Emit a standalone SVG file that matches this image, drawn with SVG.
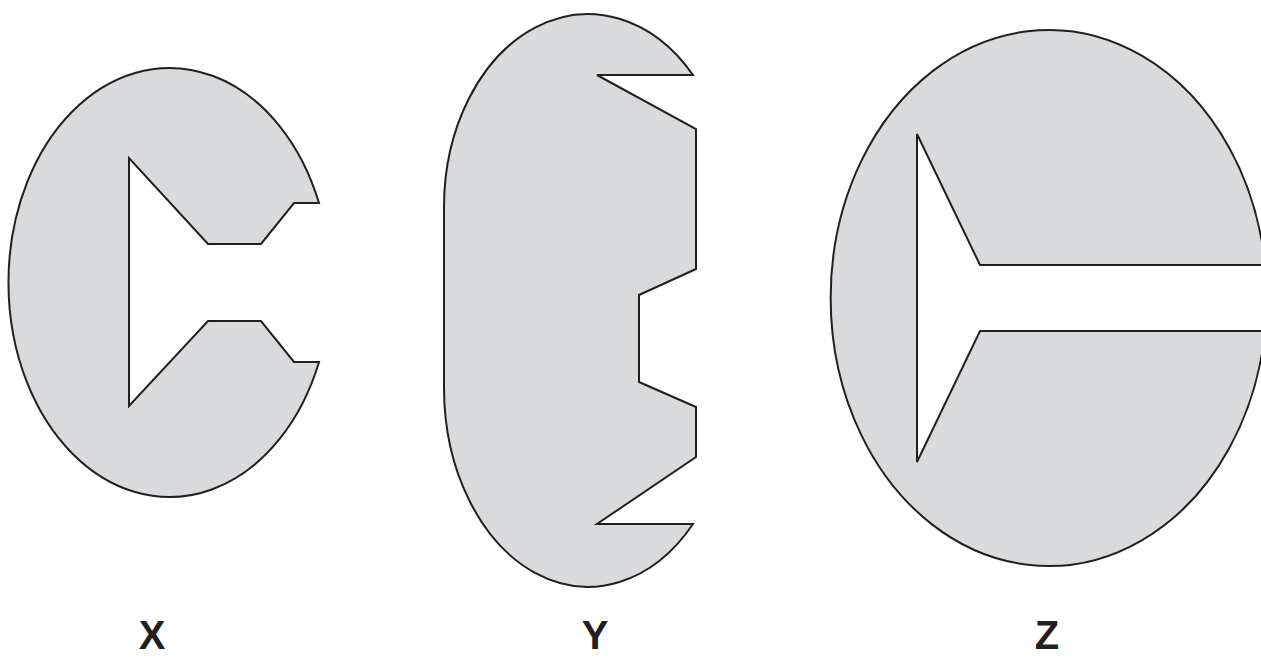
<svg xmlns="http://www.w3.org/2000/svg" width="1261" height="659" viewBox="0 0 1261 659">
<style>
.shape{fill:#d9dadc;stroke:#231f20;stroke-width:2;stroke-linejoin:miter}
.lbl{font-family:"Liberation Sans",Arial,sans-serif;font-weight:bold;font-size:40px;fill:#231f20;text-anchor:middle}
</style>
<rect width="1261" height="659" fill="#ffffff"/>
<g id="X">
<path class="shape" d="M319,203 A161,214.5 0 1 0 319,362 L294,362 L261,321 L208,321 L129,406 L129,158 L208,244 L261,244 L294,203 Z"/>
<text class="lbl" x="152" y="649">X</text>
</g>
<g id="Y">
<path class="shape" d="M693,75 L597,75 L696,129 L696,269 L639,295 L639,382 L696,407 L696,457 L597,524 L693,524 A144,199 0 0 1 444,388 L444,207 A144,193 0 0 1 693,75 Z"/>
<text class="lbl" x="595" y="649">Y</text>
</g>
<g id="Z">
<path class="shape" d="M1265,265 L980,265 L917,134 L917,462 L980,331 L1265,331 A218,268 0 1 1 1265,265 Z"/>
<text class="lbl" x="1047" y="649">Z</text>
</g>
<g id="connectors"></g>
</svg>
